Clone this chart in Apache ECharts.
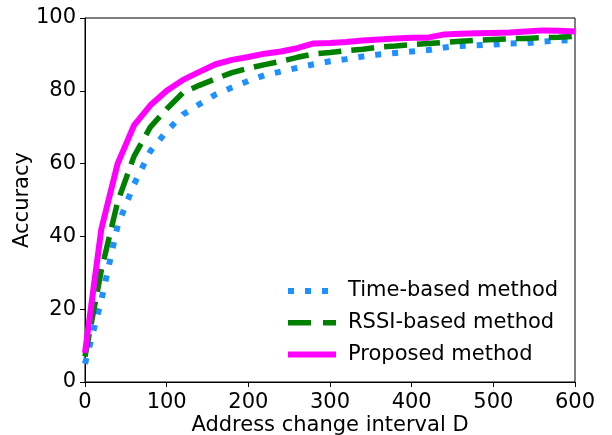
<!DOCTYPE html>
<html>
<head>
<meta charset="utf-8">
<script src="https://cdn.jsdelivr.net/npm/echarts@6/dist/echarts.min.js"></script>
<style>
html,body{margin:0;padding:0;background:#fff;}
#chart{width:612px;height:435px;}
</style>
</head>
<body>
<div id="chart"></div>
<script>
const xValues = [0,20,40,60,80,100,120,140,160,180,200,220,240,260,280,300,320,340,360,380,400,420,440,460,480,500,520,540,560,580,600];
const timeBased = [5,22.5,43,54.3,63.4,68.9,73.5,76.3,79,80.9,82.7,84.3,85.3,86.3,87.3,88.1,88.7,89.4,90,90.4,90.8,91.2,91.9,92.3,92.5,92.7,93,93.1,93.5,93.8,94];
const rssiBased = [7,30.7,49.5,62,70,75,79.5,81.5,83.3,85,86.2,87.2,88.1,89.2,90.1,90.5,91,91.4,92,92.3,92.7,93,93.3,93.6,93.9,94.1,94.3,94.4,94.6,94.7,95];
const proposed = [8,42,60,70.5,76,80,83,85.2,87.3,88.5,89.3,90.2,90.8,91.7,93,93.1,93.4,93.8,94.1,94.4,94.6,94.6,95.5,95.7,95.8,95.9,96,96.3,96.6,96.5,96.3];
const xTicks = [0,100,200,300,400,500,600];
const yTicks = [0,20,40,60,80,100];
const seriesNames = ['Time-based method','RSSI-based method','Proposed method'];

const FONT = 'DejaVu Sans';
const FS = 21;
const pairs = a => xValues.map((x,i)=>[x,a[i]]);

const chart = echarts.init(document.getElementById('chart'), null, {renderer:'canvas'});
chart.setOption({
  animation:false,
  backgroundColor:'#fff',
  textStyle:{fontFamily:FONT},
  grid:{left:85,right:37,top:18,bottom:53,containLabel:false,outerBoundsMode:'none',
        show:true,borderColor:'#000',borderWidth:1,backgroundColor:'transparent'},
  xAxis:{
    type:'value',min:xTicks[0],max:xTicks[xTicks.length-1],interval:100,
    name:'Address change interval D',nameLocation:'middle',nameGap:33,nameMoveOverlap:false,
    nameTextStyle:{fontFamily:FONT,fontSize:FS,color:'#000'},
    axisLine:{show:true,lineStyle:{color:'#000',width:1}},
    axisTick:{show:true,inside:false,length:5,lineStyle:{color:'#000'}},
    axisLabel:{fontFamily:FONT,fontSize:FS,color:'#000',margin:10},
    splitLine:{show:false}
  },
  yAxis:{
    type:'value',min:yTicks[0],max:yTicks[yTicks.length-1],interval:20,
    name:'Accuracy',nameLocation:'middle',nameGap:52,nameMoveOverlap:false,
    nameTextStyle:{fontFamily:FONT,fontSize:FS,color:'#000'},
    axisLine:{show:true,lineStyle:{color:'#000',width:1}},
    axisTick:{show:true,inside:false,length:5,lineStyle:{color:'#000'}},
    axisLabel:{fontFamily:FONT,fontSize:FS,color:'#000',margin:9,padding:[4,0,0,0]},
    splitLine:{show:false}
  },
  legend:{
    orient:'vertical',left:285,top:280.5,padding:0,itemGap:10.7,itemWidth:48,itemHeight:20,
    textStyle:{fontFamily:FONT,fontSize:FS,color:'#000',padding:[0,0,0,7]},
    itemStyle:{opacity:0},
    data:[
      {name:seriesNames[0],itemStyle:{opacity:0},lineStyle:{width:6,type:[6,11],opacity:1}},
      {name:seriesNames[1],itemStyle:{opacity:0},lineStyle:{width:5.5,type:[23,12],opacity:1}},
      {name:seriesNames[2],itemStyle:{opacity:0},lineStyle:{width:6,opacity:1}}
    ]
  },
  series:[
    {name:seriesNames[0],type:'line',data:pairs(timeBased),showSymbol:false,symbol:'none',
     lineStyle:{color:'#1E90FF',width:6,type:[6,11],cap:'butt'},itemStyle:{color:'#1E90FF'},z:2},
    {name:seriesNames[1],type:'line',data:pairs(rssiBased),showSymbol:false,symbol:'none',
     lineStyle:{color:'#008000',width:5.5,type:[23,10],cap:'butt'},itemStyle:{color:'#008000'},z:3},
    {name:seriesNames[2],type:'line',data:pairs(proposed),showSymbol:false,symbol:'none',
     lineStyle:{color:'#FF00FF',width:6,type:'solid'},itemStyle:{color:'#FF00FF'},z:4}
  ]
});
</script>
</body>
</html>
